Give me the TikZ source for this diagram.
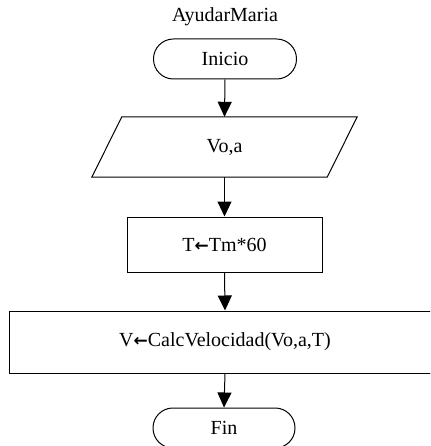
\documentclass[tikz,border=0pt]{standalone}
\usepackage{fontspec}
\setmainfont{Liberation Serif}
\newfontfamily\arrowfont{DejaVu Sans}
\usetikzlibrary{arrows.meta}
\newcommand{\asg}{{\arrowfont\bfseries\fontsize{17}{17}\selectfont ←}}
\begin{document}
\begin{tikzpicture}[x=1pt,y=1pt,
  every node/.style={font=\fontsize{20}{24}\selectfont, inner sep=0pt},
  line/.style={line width=1pt, draw=black},
  terminal/.style={line, rectangle, rounded corners=19.9pt, minimum width=143pt, minimum height=40pt},
  process/.style={line, rectangle, minimum height=55pt},
  flow/.style={line, -{Triangle[length=15pt,width=14pt]}}]
  \useasboundingbox (0,-446) rectangle (430,0);
  \clip (0,-446) rectangle (430,0);

  \node (title) at (225,-17) {AyudarMaria};
  \node[terminal] (inicio) at (225,-59) {Inicio};

  % data input: parallelogram built on an invisible box
  \node[minimum width=265pt, minimum height=60pt] (entrada) at (224.5,-147) {Vo,a};
  \draw[line] ([xshift=30pt]entrada.north west) -- (entrada.north east)
    -- ([xshift=-30pt]entrada.south east) -- (entrada.south west) -- cycle;

  \node[process, minimum width=195pt] (tiempo) at (224.5,-244.5) {T\asg Tm*60};
  \node[process, minimum width=432pt, minimum height=62pt] (veloc) at (225,-342) {V\asg CalcVelocidad(Vo,a,T)};
  \node[terminal, minimum width=142pt] (fin) at (224,-428) {Fin};

  \draw[flow] (inicio.south) -- (entrada.north);
  \draw[flow] (entrada.south) -- (tiempo.north);
  \draw[flow] (tiempo.south) -- (veloc.north);
  \draw[flow] (veloc.south) -- (fin.north);
\end{tikzpicture}
\end{document}
